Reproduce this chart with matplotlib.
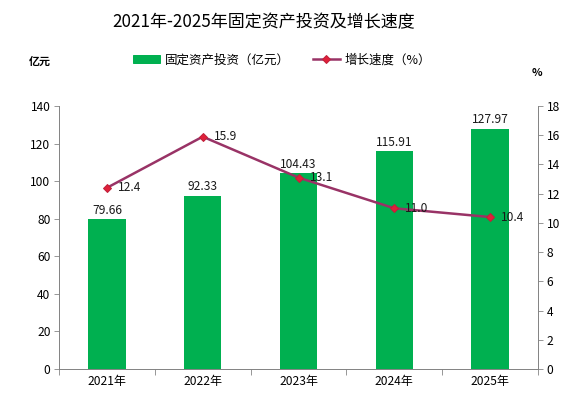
import matplotlib
matplotlib.use("Agg")
import matplotlib.pyplot as plt
import numpy as np
from matplotlib.lines import Line2D
from matplotlib.patches import Patch

plt.rcParams['font.family'] = ['Noto Sans CJK SC', 'DejaVu Sans']

years = ['2021年', '2022年', '2023年', '2024年', '2025年']
investment = [79.66, 92.33, 104.43, 115.91, 127.97]
growth = [12.4, 15.9, 13.1, 11.0, 10.4]
inv_labels = ['79.66', '92.33', '104.43', '115.91', '127.97']
growth_labels = ['12.4', '15.9', '13.1', '11.0', '10.4']

fig = plt.figure(figsize=(8, 5.625), dpi=72)
ax = fig.add_axes([59/576, 1-369/405, (538-59)/576, (369-106)/405])
x = np.arange(len(years))
ax.bar(x, investment, width=0.39, color='#00b050', zorder=2)
ax.set_xlim(-0.5, len(years)-0.5)
ax.set_ylim(0, 140)
ax.set_yticks(np.arange(0, 141, 20))
ax.set_xticks(np.arange(-0.5, len(years), 1.0))
ax.set_xticklabels([])
ax.set_xticks(x, minor=True)
ax.set_xticklabels(years, minor=True, fontsize=12)
ax.tick_params(axis='x', which='minor', length=0, pad=6)
ax.tick_params(axis='x', which='major', length=6, color='#808080', direction='out')
ax.tick_params(axis='y', length=5, color='#808080', labelsize=12, direction='out')
for sp in ['left', 'bottom', 'right']:
    ax.spines[sp].set_color('#808080')
ax.spines['top'].set_visible(False)

for xi, v, lab in zip(x, investment, inv_labels):
    ax.text(xi, v + 1.2, lab, ha='center', va='bottom', fontsize=12, color='#1a1a1a')

ax2 = ax.twinx()
ax2.set_ylim(0, 18)
ax2.set_yticks(np.arange(0, 19, 2))
ax2.plot(x, growth, color='#993366', lw=2.5, marker='D', markersize=5,
         markerfacecolor='#e0203a', markeredgecolor='#c0203a', zorder=3)
ax2.tick_params(axis='y', length=5, color='#808080', labelsize=12, direction='out')
for sp in ['left', 'bottom', 'right']:
    ax2.spines[sp].set_color('#808080')
ax2.spines['top'].set_visible(False)
for xi, v, lab in zip(x, growth, growth_labels):
    ax2.annotate(lab, (xi, v), xytext=(11, 0), textcoords='offset points',
                 ha='left', va='center', fontsize=12, color='#1a1a1a')

fig.text(264/576, 1-22/405, '2021年-2025年固定资产投资及增长速度', ha='center', va='center', fontsize=17)
fig.text(40/576, 1-62/405, '亿元', ha='center', va='center', fontsize=11, fontweight='bold')
fig.text(537/576, 1-73/405, '%', ha='center', va='center', fontsize=11, fontweight='bold')

handles = [Patch(color='#00b050'),
           Line2D([0], [0], color='#993366', lw=2.5, marker='D', markersize=5,
                  markerfacecolor='#e0203a', markeredgecolor='#c0203a')]
fig.legend(handles, ['固定资产投资（亿元）', '增长速度（%）'], loc='center',
           bbox_to_anchor=(282/576, 1-60/405), ncol=2, frameon=False, fontsize=12.5,
           handlelength=2.2, handleheight=0.6, handletextpad=0.4, columnspacing=1.8)

fig.savefig('out.png', dpi=72)
